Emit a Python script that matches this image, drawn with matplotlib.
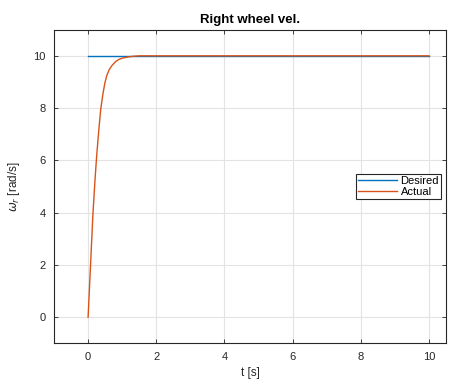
import matplotlib
matplotlib.use('Agg')
import matplotlib.pyplot as plt

# data
t_desired = [0, 10]
w_desired = [10, 10]

t_actual = [0, 0.07, 0.14, 0.2, 0.25, 0.31, 0.37, 0.43, 0.49, 0.55, 0.62,
            0.7, 0.8, 0.9, 1.0, 1.15, 1.3, 1.5, 2.0, 10]
w_actual = [0, 1.95, 3.9, 5.2, 6.15, 7.1, 7.95, 8.5, 8.95, 9.25, 9.47,
            9.63, 9.77, 9.86, 9.91, 9.95, 9.98, 10, 10, 10]

x_ticks = [0, 2, 4, 6, 8, 10]
y_ticks = [0, 2, 4, 6, 8, 10]

plt.rcParams['font.family'] = ['Liberation Sans', 'DejaVu Sans']
plt.rcParams['mathtext.fontset'] = 'dejavusans'

fig = plt.figure(figsize=(4.52, 3.83), dpi=100)
ax = fig.add_axes([0.1195, 0.1036, 0.8672, 0.8189])

ax.plot(t_desired, w_desired, color='#0072BD', lw=1.0, label='Desired')
ax.plot(t_actual, w_actual, color='#D95319', lw=1.0, label='Actual')

ax.set_xlim(-1, 10.5)
ax.set_ylim(-1, 11)
ax.set_xticks(x_ticks)
ax.set_yticks(y_ticks)

dark = '#262626'
ax.grid(True, color='#e3e3e3', lw=0.8)
ax.set_axisbelow(True)
for s in ax.spines.values():
    s.set_color(dark)
    s.set_linewidth(0.8)
ax.tick_params(direction='in', length=3, width=0.6, colors=dark,
               labelsize=8, top=True, right=True, pad=6)

ax.set_title('Right wheel vel.', fontsize=9.5, fontweight='bold', pad=5)
ax.set_xlabel('t [s]', fontsize=8.5, color=dark, labelpad=4)
ax.set_ylabel(r'$\omega_r$ [rad/s]', fontsize=8.5, color=dark, labelpad=8)

leg = ax.legend(loc='center right', bbox_to_anchor=(0.988, 0.5), fontsize=8,
                fancybox=False, framealpha=1, edgecolor=dark,
                handlelength=3.5, handletextpad=0.3, borderpad=0.2,
                labelspacing=0.1, borderaxespad=0)
leg.get_frame().set_linewidth(0.8)

fig.savefig('out.png', dpi=100)
